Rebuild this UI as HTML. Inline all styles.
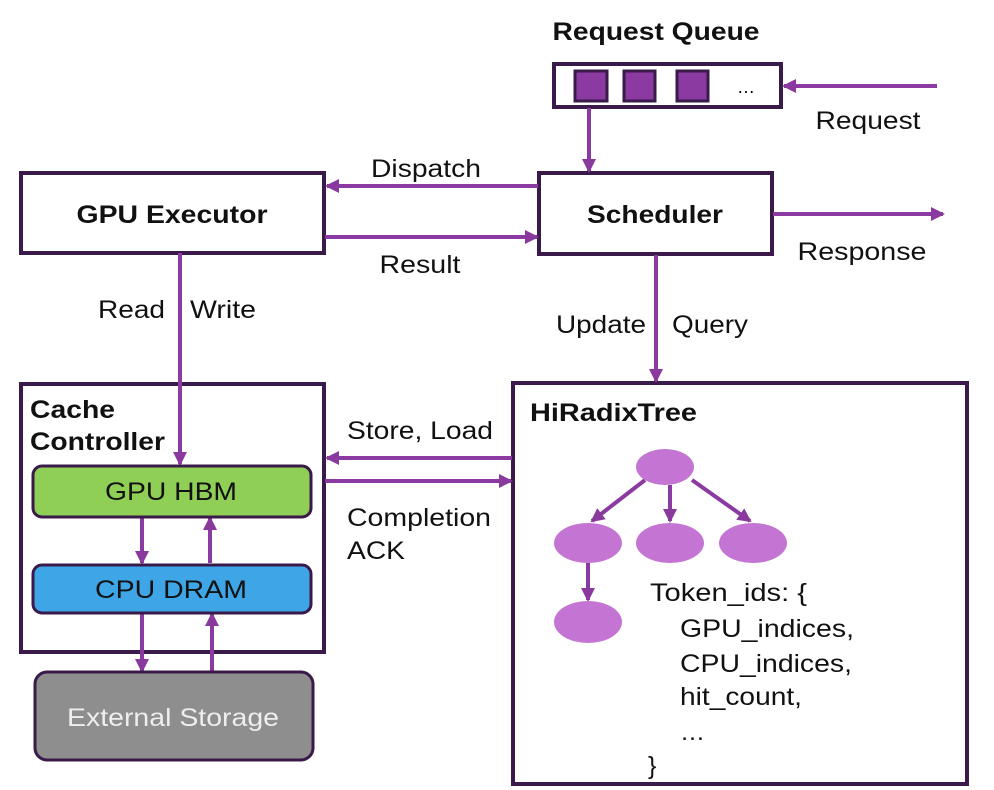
<!DOCTYPE html>
<html><head><meta charset="utf-8"><style>
html,body{margin:0;padding:0;background:#fff;}
svg{display:block;font-family:"Liberation Sans",Arial,sans-serif;}
</style></head><body>
<svg width="994" height="790" viewBox="0 0 994 790" xmlns="http://www.w3.org/2000/svg">
<defs>
<marker id="b" markerWidth="14" markerHeight="14" refX="12" refY="7" orient="auto" markerUnits="userSpaceOnUse">
<path d="M0,0 L14,7 L0,14 Z" fill="#8a3a9e"/>
</marker>
</defs>
<g fill="none" stroke="#3a1a4a" stroke-width="4">
<rect x="554" y="64" width="227" height="43" fill="#fff"/>
<rect x="539" y="173" width="233" height="81" fill="#fff"/>
<rect x="21" y="173" width="303" height="80" fill="#fff"/>
<rect x="21" y="384" width="303" height="268" fill="#fff"/>
<rect x="513" y="383" width="454" height="401" fill="#fff"/>
</g>
<g fill="#8a3aa0" stroke="#3a1a4a" stroke-width="3">
<rect x="575" y="71" width="32" height="30"/>
<rect x="624" y="71" width="31" height="30"/>
<rect x="677" y="71" width="31" height="30"/>
</g>
<text x="737" y="93" font-size="18">…</text>
<g stroke="#8a3aa0" stroke-width="4" fill="none">
<line x1="937" y1="86" x2="784" y2="86" marker-end="url(#b)"/>
<line x1="589" y1="108" x2="589" y2="171" marker-end="url(#b)"/>
<line x1="538" y1="186" x2="327" y2="186" marker-end="url(#b)"/>
<line x1="325" y1="237" x2="537" y2="237" marker-end="url(#b)"/>
<line x1="773" y1="214" x2="943" y2="214" marker-end="url(#b)"/>
<line x1="180" y1="253" x2="180" y2="464" marker-end="url(#b)"/>
<line x1="656" y1="255" x2="656" y2="381" marker-end="url(#b)"/>
<line x1="512" y1="458" x2="327" y2="458" marker-end="url(#b)"/>
<line x1="325" y1="481" x2="511" y2="481" marker-end="url(#b)"/>
<line x1="142" y1="518" x2="142" y2="563" marker-end="url(#b)"/>
<line x1="210" y1="563" x2="210" y2="518" marker-end="url(#b)"/>
<line x1="142" y1="614" x2="142" y2="671" marker-end="url(#b)"/>
<line x1="212" y1="671" x2="212" y2="614" marker-end="url(#b)"/>
<line x1="645" y1="480" x2="592" y2="521" marker-end="url(#b)"/>
<line x1="670" y1="485" x2="670" y2="521" marker-end="url(#b)"/>
<line x1="692" y1="480" x2="750" y2="521" marker-end="url(#b)"/>
<line x1="588" y1="563" x2="588" y2="600" marker-end="url(#b)"/>
</g>
<rect x="33" y="466" width="278" height="51" rx="9" fill="#8fcf55" stroke="#3a1a4a" stroke-width="3"/>
<rect x="33" y="565" width="278" height="48" rx="9" fill="#3ea6e6" stroke="#3a1a4a" stroke-width="3"/>
<rect x="35" y="672" width="278" height="88" rx="12" fill="#8e8e8e" stroke="#3a1a4a" stroke-width="3"/>
<g fill="#c474d2">
<ellipse cx="665" cy="467" rx="29" ry="18"/>
<ellipse cx="588" cy="543" rx="34" ry="20"/>
<ellipse cx="670" cy="543" rx="34" ry="20"/>
<ellipse cx="753" cy="543" rx="34" ry="20"/>
<ellipse cx="588" cy="622" rx="34" ry="21"/>
</g>
<g font-size="25" fill="#111">
<text x="656" y="40" font-weight="bold" text-anchor="middle" textLength="207" lengthAdjust="spacingAndGlyphs">Request Queue</text>
<text x="868" y="129" text-anchor="middle" textLength="105" lengthAdjust="spacingAndGlyphs">Request</text>
<text x="655" y="223" font-weight="bold" text-anchor="middle" textLength="136" lengthAdjust="spacingAndGlyphs">Scheduler</text>
<text x="172" y="223" font-weight="bold" text-anchor="middle" textLength="191" lengthAdjust="spacingAndGlyphs">GPU Executor</text>
<text x="426" y="177" text-anchor="middle" textLength="110" lengthAdjust="spacingAndGlyphs">Dispatch</text>
<text x="420" y="273" text-anchor="middle" textLength="81" lengthAdjust="spacingAndGlyphs">Result</text>
<text x="862" y="260" text-anchor="middle" textLength="129" lengthAdjust="spacingAndGlyphs">Response</text>
<text x="98" y="318" textLength="67" lengthAdjust="spacingAndGlyphs">Read</text>
<text x="190" y="318" textLength="66" lengthAdjust="spacingAndGlyphs">Write</text>
<text x="556" y="333" textLength="90" lengthAdjust="spacingAndGlyphs">Update</text>
<text x="672" y="333" textLength="76" lengthAdjust="spacingAndGlyphs">Query</text>
<text x="30" y="418" font-weight="bold" textLength="85" lengthAdjust="spacingAndGlyphs">Cache</text>
<text x="30" y="450" font-weight="bold" textLength="135" lengthAdjust="spacingAndGlyphs">Controller</text>
<text x="530" y="421" font-weight="bold" textLength="167" lengthAdjust="spacingAndGlyphs">HiRadixTree</text>
<text x="347" y="439" textLength="146" lengthAdjust="spacingAndGlyphs">Store, Load</text>
<text x="347" y="526" textLength="144" lengthAdjust="spacingAndGlyphs">Completion</text>
<text x="347" y="559" textLength="58" lengthAdjust="spacingAndGlyphs">ACK</text>
<text x="171" y="500" text-anchor="middle" textLength="132" lengthAdjust="spacingAndGlyphs">GPU HBM</text>
<text x="171" y="598" text-anchor="middle" textLength="152" lengthAdjust="spacingAndGlyphs">CPU DRAM</text>
<text x="173" y="726" text-anchor="middle" fill="#eeeeee" textLength="212" lengthAdjust="spacingAndGlyphs">External Storage</text>
<text x="650" y="601" textLength="157" lengthAdjust="spacingAndGlyphs">Token_ids: {</text>
<text x="680" y="637" textLength="174" lengthAdjust="spacingAndGlyphs">GPU_indices,</text>
<text x="680" y="672" textLength="172" lengthAdjust="spacingAndGlyphs">CPU_indices,</text>
<text x="680" y="705" textLength="122" lengthAdjust="spacingAndGlyphs">hit_count,</text>
<text x="680" y="740">…</text>
<text x="648" y="774">}</text>
</g>
</svg>
</body></html>
